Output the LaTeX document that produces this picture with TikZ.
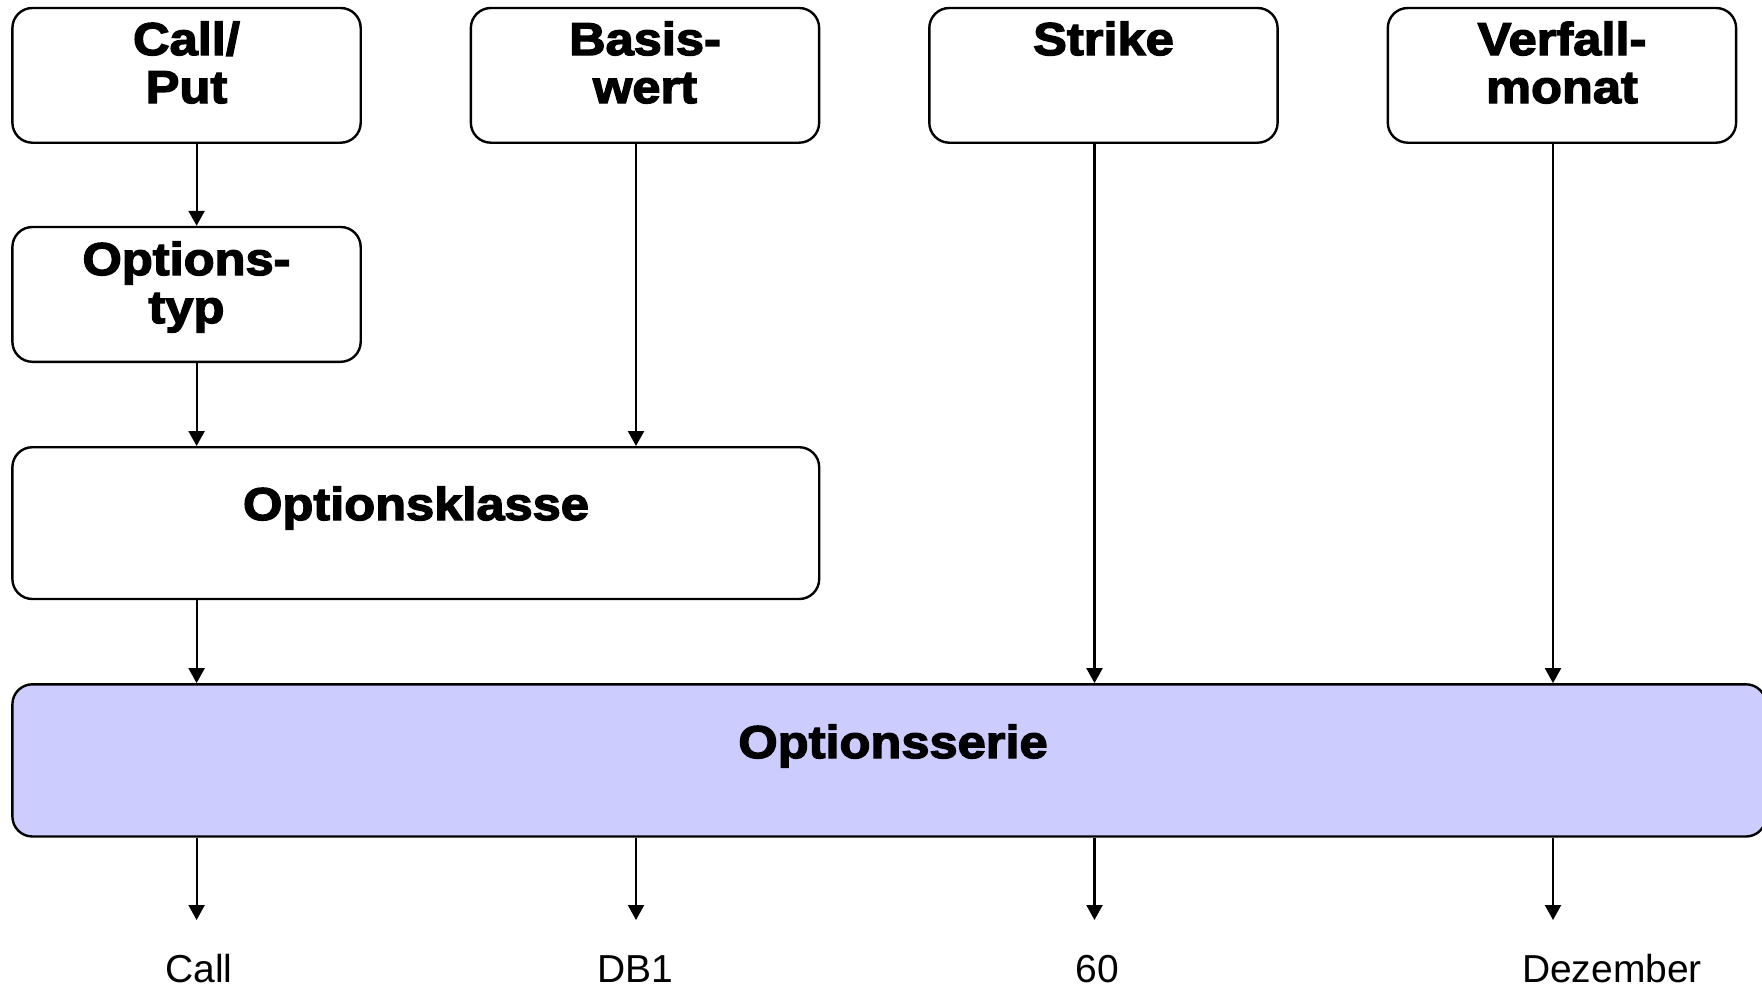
\documentclass[tikz,border=0pt]{standalone}
\usepackage{fontspec}
\setmainfont{Liberation Sans}
\newfontfamily\blk[FakeStretch=1.1,FakeBold=3]{Liberation Sans}
\usetikzlibrary{arrows.meta}
\definecolor{serie}{RGB}{204,204,255}
\tikzset{
  box/.style={draw=black, line width=2.4pt, rounded corners=20pt, inner sep=0pt, fill=white},
  ttl/.style={font=\blk\bfseries\fontsize{46}{48}\selectfont, align=center, inner sep=0pt, anchor=base},
  lbl/.style={font=\fontsize{39}{44}\selectfont, inner sep=0pt, anchor=base},
  arr/.style={line width=2.2pt, -{Triangle[length=15pt,width=16pt]}}
}
\begin{document}
\begin{tikzpicture}[x=1pt,y=-1pt]
\useasboundingbox (0,0) rectangle (1762,988);
% column x positions of connectors
\coordinate (x1) at (196.6,0);
\coordinate (x2) at (636,0);
\coordinate (x3) at (1094.5,0);
\coordinate (x4) at (1553,0);
\coordinate (tipy) at (0,920);
% boxes
\node[box, minimum width=348.3pt, minimum height=134.7pt] (cp) at (186.55,75.35) {};
\node[box, minimum width=348.3pt, minimum height=134.7pt] (bw) at (645,75.35) {};
\node[box, minimum width=348.3pt, minimum height=134.7pt] (st) at (1103.45,75.35) {};
\node[box, minimum width=348.3pt, minimum height=134.7pt] (vm) at (1561.95,75.35) {};
\node[box, minimum width=348.3pt, minimum height=134.8pt] (ot) at (186.55,294.4) {};
\node[box, minimum width=806.8pt, minimum height=151.8pt] (ok) at (415.8,523.1) {};
\node[box, fill=serie, minimum width=1753.6pt, minimum height=152.2pt] (os) at (889.2,760.4) {};
% titles (base anchor = baseline of the last line)
\node[ttl] (tcp) at (186.5,103) {Call/\\Put};
\node[ttl] (tbw) at (645,103) {Basis-\\wert};
\node[ttl] (tst) at (1103.5,55) {Strike};
\node[ttl] (tvm) at (1562,103) {Verfall-\\monat};
\node[ttl] (tot) at (186.5,323) {Options-\\typ};
\node[ttl] (tok) at (416,520) {Optionsklasse};
\node[ttl] (tos) at (893,758) {Optionsserie};
% bottom labels
\node[lbl] (l1) at (199,982) {Call};
\node[lbl] (l2) at (635,982) {DB1};
\node[lbl] (l3) at (1097,982) {60};
\node[lbl] (l4) at (1612,982) {Dezember};
% connectors
\draw[arr] (cp.south -| x1) -- (ot.north -| x1);
\draw[arr] (ot.south -| x1) -- (ok.north -| x1);
\draw[arr] (bw.south -| x2) -- (ok.north -| x2);
\draw[arr] (ok.south -| x1) -- (os.north -| x1);
\draw[arr] (st.south -| x3) -- (os.north -| x3);
\draw[arr] (vm.south -| x4) -- (os.north -| x4);
\draw[arr] (os.south -| x1) -- (tipy -| x1);
\draw[arr] (os.south -| x2) -- (tipy -| x2);
\draw[arr] (os.south -| x3) -- (tipy -| x3);
\draw[arr] (os.south -| x4) -- (tipy -| x4);
\end{tikzpicture}
\end{document}
